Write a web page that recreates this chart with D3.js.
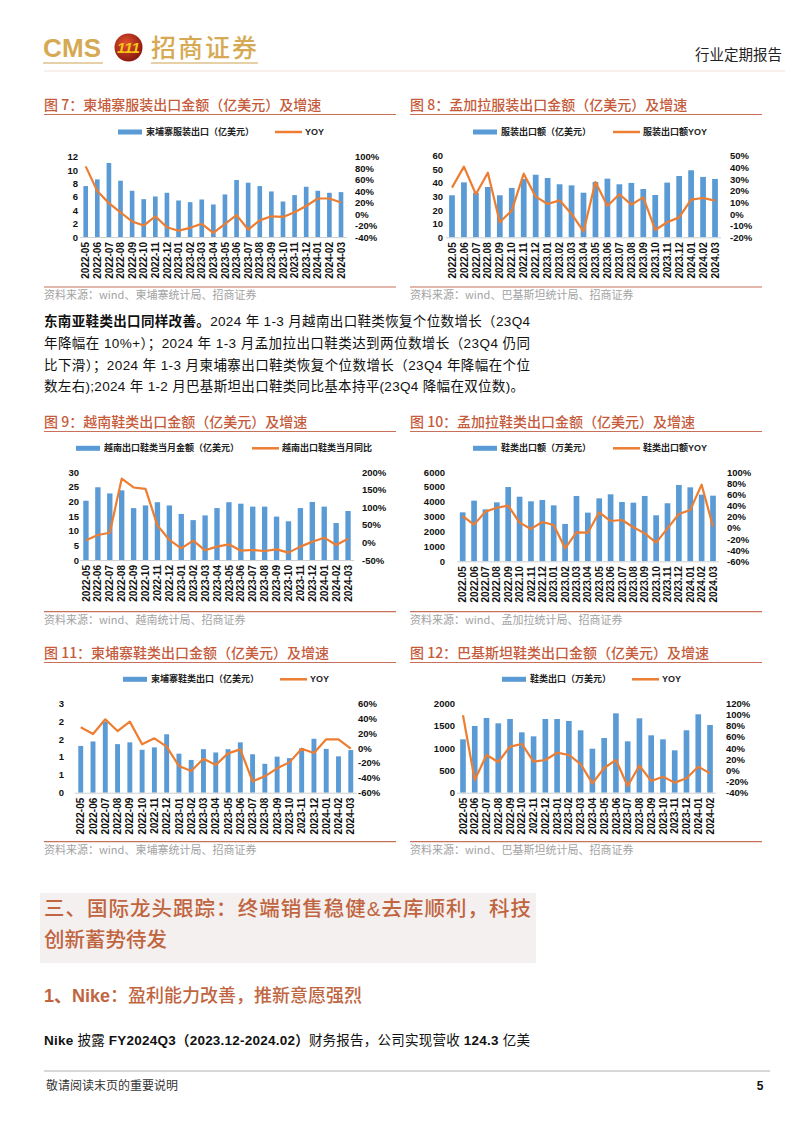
<!DOCTYPE html>
<html><head><meta charset="utf-8">
<script src="https://cdn.jsdelivr.net/npm/d3@7"></script>
<style>
body{margin:0;background:#fff}
svg{display:block}
text{font-family:"Liberation Sans","Noto Sans CJK SC",sans-serif}
</style>
</head><body>
<svg id="page" width="802" height="1133"></svg>
<script>
// ---------- DATA ----------
const labelsDash = ["2022-05","2022-06","2022-07","2022-08","2022-09","2022-10","2022-11","2022-12","2023-01","2023-02","2023-03","2023-04","2023-05","2023-06","2023-07","2023-08","2023-09","2023-10","2023-11","2023-12","2024-01","2024-02","2024-03"];
const labelsDot = ["2022.05","2022.06","2022.07","2022.08","2022.09","2022.10","2022.11","2022.12","2023.01","2023.02","2023.03","2023.04","2023.05","2023.06","2023.07","2023.08","2023.09","2023.10","2023.11","2023.12","2024.01","2024.02","2024.03"];
const labelsDash22 = ["2022-05","2022-06","2022-07","2022-08","2022-09","2022-10","2022-11","2022-12","2023-01","2023-02","2023-03","2023-04","2023-05","2023-06","2023-07","2023-08","2023-09","2023-10","2023-11","2023-12","2024-01","2024-02"];

// Fig 7 Cambodia apparel (100m USD) & YoY %
const khmApparel = [7.6,8.6,11.05,8.4,6.9,5.65,6.05,6.6,5.45,5.2,5.6,4.85,6.35,8.5,8.1,7.6,6.8,5.3,6.25,7.5,6.9,6.6,6.7];
const khmApparelYoy = [83,40,19,3,-13,-20,-4,-23,-29,-24,-17,-33,-17,-2,-27,-11,-4,-5,3,14,27,27,20];
// Fig 8 Bangladesh apparel
const bgdApparel = [30.9,40.4,32.8,37,30.9,36.3,42.9,46,43.6,39,38.2,32.8,40.7,43.1,39,40,35.5,31.1,40.2,45.1,49.3,44.4,42.9];
const bgdApparelYoy = [22.6,40.6,16.9,35.4,-7.1,2.9,34.6,14.9,8.6,11.7,0,-15,27.4,6.9,16.9,8,14.3,-13.7,-7.1,-2.9,12.3,13.7,11.4];
// Fig 9 Vietnam footwear
const vnmShoes = [20.2,24.8,22.7,23.75,17.7,18.6,19.7,18.6,15.7,13.6,15.2,17.7,19.7,19.2,18.2,18.2,14.8,13.2,17.7,19.8,18.2,12.6,16.7];
const vnmShoesYoy = [6,21,27.5,181,156,152,48.5,7,-17,5,-22.5,-12,-5.5,-23.5,-21.6,-24.4,-19.7,-29,-12,2,13.4,-7.4,10.6];
// Fig 10 Bangladesh footwear (10k USD)
const bgdShoes = [3290,4075,3490,3960,4990,4340,4030,4120,3760,2510,4390,3270,4230,4500,3985,3940,4390,3090,3900,5130,4970,4480,4410];
const bgdShoesYoy = [21,5.7,29,36,39.7,9.3,-2,10.4,5,-36.7,-8,-8.7,27.8,12.2,14,1,-10,-26.6,-1,24.8,32,77.3,2];
// Fig 11 Cambodia footwear
const khmShoes = [1.57,1.72,2.39,1.63,1.69,1.44,1.52,1.96,1.31,1.10,1.46,1.35,1.46,1.69,1.29,0.97,1.21,1.16,1.49,1.81,1.47,1.22,1.43];
const khmShoesYoy = [27.8,18.8,38.5,22.8,35.4,4.9,13,1.8,-24.2,-30.9,-14.3,-22.8,-7.2,-1.8,-44.8,-38,-27.3,-19.3,-0.9,-6.7,11.6,11.6,-0.9];
// Fig 12 Pakistan footwear (10k USD)
const pakShoes = [1194,1493,1672,1552,1649,1351,1261,1649,1649,1604,1396,985,1224,1776,1149,1664,1284,1194,948,1396,1754,1515];
const pakShoesYoy = [98.5,-17.3,27.5,14.9,42.4,47.2,15.5,18.5,31.6,27.5,11.3,-23.3,4.2,18.5,-28,8.4,-19.1,-11.3,-22,-14.3,6.6,-5.4];

// tick values
const ticks7L = [0,2,4,6,8,10,12];
const ticks7R = [-40,-20,0,20,40,60,80,100];
const ticks8L = [0,10,20,30,40,50,60];
const ticks8R = [-20,-10,0,10,20,30,40,50];
const ticks9L = [0,5,10,15,20,25,30];
const ticks9R = [-50,0,50,100,150,200];
const ticks10L = [0,1000,2000,3000,4000,5000,6000];
const ticks10R = [-60,-40,-20,0,20,40,60,80,100];
const ticks11L = [0,0.6,1.2,1.8,2.4,3.0];
const ticks11R = [-60,-40,-20,0,20,40,60];
const ticks12L = [0,500,1000,1500,2000];
const ticks12R = [-40,-20,0,20,40,60,80,100,120];

// ---------- STYLE ----------
const BAR = "#5b9bd5", LINE = "#ed7d31", TITLE = "#c55b3b", RULE = "#c9705a", SRC = "#a3a3a3";
const svg = d3.select("#page");

// ---------- HEADER ----------
const defs = svg.append("defs");
const rg = defs.append("radialGradient").attr("id","lg").attr("cx","40%").attr("cy","35%").attr("r","65%");
rg.append("stop").attr("offset","0%").attr("stop-color","#e0502e");
rg.append("stop").attr("offset","100%").attr("stop-color","#8c1a10");
svg.append("text").attr("x",43).attr("y",57).attr("font-size",26).attr("font-weight",700)
  .attr("fill","#d6aa55").attr("textLength",58).text("CMS");
svg.append("circle").attr("cx",128.5).attr("cy",47.5).attr("r",14).attr("fill","url(#lg)");
svg.append("text").attr("x",128.5).attr("y",53).attr("text-anchor","middle").attr("font-size",15)
  .attr("font-weight",700).attr("font-style","italic").attr("fill","#f5c518").text("111");
svg.append("text").attr("x",151).attr("y",57).attr("font-size",25).attr("font-weight",500)
  .attr("fill","#d6aa55").attr("textLength",106).style("font-family","Noto Sans CJK SC").text("招商证券");
svg.append("line").attr("x1",43).attr("x2",103).attr("y1",63).attr("y2",63).attr("stroke","#dcc08a").attr("stroke-width",1.5);
svg.append("line").attr("x1",151).attr("x2",258).attr("y1",63).attr("y2",63).attr("stroke","#dcc08a").attr("stroke-width",1.5);
svg.append("line").attr("x1",44).attr("x2",785).attr("y1",71).attr("y2",71).attr("stroke","#f3e0d8").attr("stroke-width",1);
svg.append("text").attr("x",782).attr("y",60).attr("text-anchor","end").attr("font-size",14.5)
  .attr("fill","#222").style("font-family","Noto Sans CJK SC").text("行业定期报告");

// ---------- CHART FUNCTION ----------
function drawChart(c) {
  const g = svg.append("g");
  g.append("text").attr("x", c.left).attr("y", c.titleC + 5).attr("font-size", 14).attr("font-weight", 500)
    .attr("fill", TITLE).style("font-family","Noto Sans CJK SC").text(c.title);
  g.append("line").attr("x1", c.left).attr("x2", c.left + 352).attr("y1", c.titleC + 9.5).attr("y2", c.titleC + 9.5)
    .attr("stroke", RULE).attr("stroke-width", 1.2);
  // legend
  g.append("rect").attr("x", c.leg[0]).attr("y", c.legY - 2.5).attr("width", 24).attr("height", 5).attr("fill", BAR);
  g.append("text").attr("x", c.leg[0] + 28).attr("y", c.legY).attr("dy", "0.35em").attr("font-size", 9)
    .attr("font-weight", 700).attr("fill", "#222").text(c.barName);
  g.append("line").attr("x1", c.leg[1]).attr("x2", c.leg[1] + 27).attr("y1", c.legY).attr("y2", c.legY)
    .attr("stroke", LINE).attr("stroke-width", 2.5);
  g.append("text").attr("x", c.leg[1] + 30).attr("y", c.legY).attr("dy", "0.35em").attr("font-size", 9)
    .attr("font-weight", 700).attr("fill", "#222").text(c.lineName);

  const x = d3.scaleBand().domain(c.cats).range([c.x0, c.x1]).paddingInner(c.pad).paddingOuter(c.pad / 2);
  const yL = d3.scaleLinear().domain([c.ticksL[0], c.ticksL[c.ticksL.length - 1]]).range([c.yBot, c.yTop]);
  const yR = d3.scaleLinear().domain([c.ticksR[0], c.ticksR[c.ticksR.length - 1]]).range([c.yBot, c.yTop]);

  g.append("g").selectAll("rect").data(c.bars).join("rect")
    .attr("x", (d, i) => x(c.cats[i])).attr("y", d => yL(d))
    .attr("width", x.bandwidth()).attr("height", d => yL(0) - yL(d)).attr("fill", BAR);

  g.append("line").attr("x1", c.x0).attr("x2", c.x1).attr("y1", c.yBot + 0.5).attr("y2", c.yBot + 0.5)
    .attr("stroke", "#d0d0d0").attr("stroke-width", 1);

  const line = d3.line().x((d, i) => x(c.cats[i]) + x.bandwidth() / 2).y(d => yR(d));
  g.append("path").datum(c.yoy).attr("d", line).attr("fill", "none").attr("stroke", LINE)
    .attr("stroke-width", 2.2).attr("stroke-linejoin", "round");

  const fmtL = c.fmtL || (d => d);
  const axL = g.append("g").attr("transform", `translate(${c.lx},0)`)
    .call(d3.axisLeft(yL).tickValues(c.ticksL).tickSize(0).tickPadding(0).tickFormat(fmtL));
  axL.select(".domain").remove();
  const axR = g.append("g").attr("transform", `translate(${c.rx},0)`)
    .call(d3.axisRight(yR).tickValues(c.ticksR).tickSize(0).tickPadding(0).tickFormat(d => d + "%"));
  axR.select(".domain").remove();
  [axL, axR].forEach(a => a.selectAll("text").attr("font-size", 9.5).attr("font-weight", 700)
    .attr("fill", "#111").style("font-family", "Liberation Sans"));

  const axX = g.append("g").attr("transform", `translate(0,${c.yBot})`)
    .call(d3.axisBottom(x).tickSize(0));
  axX.select(".domain").remove();
  axX.selectAll("text").attr("transform", "rotate(-90)").attr("x", -5).attr("y", 0).attr("dy", "0.36em")
    .style("text-anchor", "end").attr("font-size", 10).attr("font-weight", 700).attr("fill", "#111")
    .style("font-family", "Liberation Sans");

  g.append("line").attr("x1", c.left).attr("x2", c.left + 352).attr("y1", c.botY).attr("y2", c.botY)
    .attr("stroke", RULE).attr("stroke-width", 1.2);
  g.append("text").attr("x", c.left).attr("y", c.botY + 12).attr("font-size", 11).attr("fill", SRC)
    .style("font-family","Noto Sans CJK SC").text(c.source);
}

drawChart({title:"图 7：柬埔寨服装出口金额（亿美元）及增速", left:44, titleC:105, legY:132, leg:[118,275],
  barName:"柬埔寨服装出口（亿美元）", lineName:"YOY", cats:labelsDash, bars:khmApparel, yoy:khmApparelYoy,
  ticksL:ticks7L, ticksR:ticks7R, x0:79.9, x1:346.8, pad:0.6, yBot:237, yTop:156.6, lx:78, rx:355, botY:287,
  source:"资料来源：wind、柬埔寨统计局、招商证券"});
drawChart({title:"图 8：孟加拉服装出口金额（亿美元）及增速", left:410, titleC:105, legY:132, leg:[473,613],
  barName:"服装出口额（亿美元）", lineName:"服装出口额YOY", cats:labelsDot, bars:bgdApparel, yoy:bgdApparelYoy,
  ticksL:ticks8L, ticksR:ticks8R, x0:446, x1:721, pad:0.52, yBot:237.3, yTop:155.7, lx:443, rx:730, botY:287,
  source:"资料来源：wind、巴基斯坦统计局、招商证券"});
drawChart({title:"图 9：越南鞋类出口金额（亿美元）及增速", left:44, titleC:422, legY:448.3, leg:[76,252],
  barName:"越南出口鞋类当月金额（亿美元）", lineName:"越南出口鞋类当月同比", cats:labelsDash, bars:vnmShoes, yoy:vnmShoesYoy,
  ticksL:ticks9L, ticksR:ticks9R, x0:80, x1:354, pad:0.55, yBot:560, yTop:472, lx:79, rx:362, botY:611.7,
  source:"资料来源：wind、越南统计局、招商证券"});
drawChart({title:"图 10：孟加拉鞋类出口金额（亿美元）及增速", left:410, titleC:422, legY:448.3, leg:[473,613],
  barName:"鞋类出口额（万美元）", lineName:"鞋类出口额YOY", cats:labelsDot, bars:bgdShoes, yoy:bgdShoesYoy,
  ticksL:ticks10L, ticksR:ticks10R, x0:457, x1:718.7, pad:0.5, yBot:561.3, yTop:472, lx:445, rx:727, botY:611.7,
  source:"资料来源：wind、孟加拉统计局、招商证券"});
drawChart({title:"图 11：柬埔寨鞋类出口金额（亿美元）及增速", left:44, titleC:653, legY:679.3, leg:[123,280],
  barName:"柬埔寨鞋类出口（亿美元）", lineName:"YOY", cats:labelsDash, bars:khmShoes, yoy:khmShoesYoy,
  ticksL:ticks11L, ticksR:ticks11R, fmtL:d3.format(".0f"), x0:74.6, x1:356.9, pad:0.6, yBot:792.7, yTop:703.3, lx:64, rx:358, botY:841.7,
  source:"资料来源：wind、柬埔寨统计局、招商证券"});
drawChart({title:"图 12：巴基斯坦鞋类出口金额（亿美元）及增速", left:410, titleC:653, legY:679.3, leg:[502,632],
  barName:"鞋类出口（万美元）", lineName:"YOY", cats:labelsDash22, bars:pakShoes, yoy:pakShoesYoy,
  ticksL:ticks12L, ticksR:ticks12R, x0:457.1, x1:715.9, pad:0.52, yBot:792.7, yTop:703.3, lx:455, rx:726, botY:841.7,
  source:"资料来源：wind、巴基斯坦统计局、招商证券"});

// ---------- TEXT BLOCKS ----------
function justified(y, segs, size, x0, x1, color, justify, cjkWeight) {
  const t = svg.append("text").attr("x", x0).attr("y", y).attr("font-size", size).attr("fill", color || "#111");
  segs.forEach(s => t.append("tspan").attr("font-weight", s.b ? (s.w || 700) : 400).text(s.t));
  if (justify) {
    const len = t.node().getComputedTextLength();
    const nch = segs.map(s => s.t).join("").length;
    const ls = (x1 - x0 - len) / (nch - 1);
    t.attr("letter-spacing", ls);
  }
  return t;
}
justified(326, [{t:"东南亚鞋类出口同样改善。", b:1}, {t:"2024 年 1-3 月越南出口鞋类恢复个位数增长（23Q4"}], 13.5, 44, 530, "#111", true);
justified(348, [{t:"年降幅在 10%+）；2024 年 1-3 月孟加拉出口鞋类达到两位数增长（23Q4 仍同"}], 13.5, 44, 530, "#111", true);
justified(370, [{t:"比下滑）；2024 年 1-3 月柬埔寨出口鞋类恢复个位数增长（23Q4 年降幅在个位"}], 13.5, 44, 530, "#111", true);
justified(391, [{t:"数左右);2024 年 1-2 月巴基斯坦出口鞋类同比基本持平(23Q4 降幅在双位数)。"}], 13.5, 44, 524, "#111", true);

svg.append("rect").attr("x", 40).attr("y", 893).attr("width", 496).attr("height", 70).attr("fill", "#f4f0ef");
justified(916, [{t:"三、国际龙头跟踪：终端销售稳健&去库顺利，科技", b:1, w:500}], 20.5, 44, 531, "#c0653f", true);
justified(947, [{t:"创新蓄势待发", b:1, w:500}], 20.5, 44, 0, "#c0653f", false);
justified(1002, [{t:"1、Nike", b:1}, {t:"：盈利能力改善，推新意愿强烈", b:1, w:500}], 18, 44, 0, "#c0653f", false);
justified(1045, [{t:"Nike ", b:1}, {t:"披露 "}, {t:"FY2024Q3（2023.12-2024.02）", b:1}, {t:"财务报告，公司实现营收 "}, {t:"124.3", b:1}, {t:" 亿美"}], 13.5, 44, 530, "#111", true);

// ---------- FOOTER ----------
svg.append("line").attr("x1", 44).attr("x2", 770).attr("y1", 1071).attr("y2", 1071).attr("stroke", "#b0b0b0").attr("stroke-width", 1);
svg.append("text").attr("x", 46).attr("y", 1090).attr("font-size", 12).attr("fill", "#333").text("敬请阅读末页的重要说明");
svg.append("text").attr("x", 760).attr("y", 1090).attr("text-anchor", "middle").attr("font-size", 12)
  .attr("font-weight", 700).attr("fill", "#111").text("5");
</script>
</body></html>
